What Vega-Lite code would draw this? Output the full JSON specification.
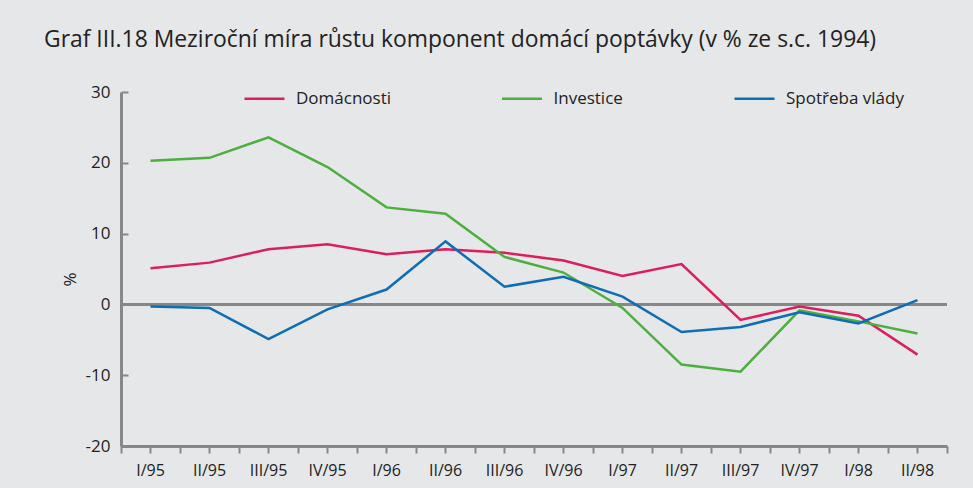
{
  "$schema": "https://vega.github.io/schema/vega-lite/v6.json",
  "width": 826,
  "height": 354,
  "autosize": {"type": "none"},
  "padding": {"left": 121, "top": 92, "right": 26, "bottom": 42},
  "background": "#e6e7e9",
  "config": {"view": {"stroke": null}, "font": "Open Sans"},
  "title": {
    "text": "Graf III.18 Meziroční míra růstu komponent domácí poptávky (v % ze s.c. 1994)",
    "anchor": "start",
    "frame": "group",
    "dx": -77,
    "offset": 25,
    "fontSize": 22.9,
    "fontWeight": "normal",
    "color": "#222222"
  },
  "data": {
    "values": [
      {"q": "I/95", "s": "Domácnosti", "v": 5.1},
      {"q": "II/95", "s": "Domácnosti", "v": 5.9},
      {"q": "III/95", "s": "Domácnosti", "v": 7.8},
      {"q": "IV/95", "s": "Domácnosti", "v": 8.5},
      {"q": "I/96", "s": "Domácnosti", "v": 7.1},
      {"q": "II/96", "s": "Domácnosti", "v": 7.8},
      {"q": "III/96", "s": "Domácnosti", "v": 7.3},
      {"q": "IV/96", "s": "Domácnosti", "v": 6.2},
      {"q": "I/97", "s": "Domácnosti", "v": 4.0},
      {"q": "II/97", "s": "Domácnosti", "v": 5.7},
      {"q": "III/97", "s": "Domácnosti", "v": -2.2},
      {"q": "IV/97", "s": "Domácnosti", "v": -0.3},
      {"q": "I/98", "s": "Domácnosti", "v": -1.6},
      {"q": "II/98", "s": "Domácnosti", "v": -7.1},
      {"q": "I/95", "s": "Investice", "v": 20.3},
      {"q": "II/95", "s": "Investice", "v": 20.7},
      {"q": "III/95", "s": "Investice", "v": 23.6},
      {"q": "IV/95", "s": "Investice", "v": 19.4},
      {"q": "I/96", "s": "Investice", "v": 13.7},
      {"q": "II/96", "s": "Investice", "v": 12.8},
      {"q": "III/96", "s": "Investice", "v": 6.7},
      {"q": "IV/96", "s": "Investice", "v": 4.5},
      {"q": "I/97", "s": "Investice", "v": -0.5},
      {"q": "II/97", "s": "Investice", "v": -8.5},
      {"q": "III/97", "s": "Investice", "v": -9.5},
      {"q": "IV/97", "s": "Investice", "v": -0.85},
      {"q": "I/98", "s": "Investice", "v": -2.4},
      {"q": "II/98", "s": "Investice", "v": -4.1},
      {"q": "I/95", "s": "Spotřeba vlády", "v": -0.3},
      {"q": "II/95", "s": "Spotřeba vlády", "v": -0.5},
      {"q": "III/95", "s": "Spotřeba vlády", "v": -4.9},
      {"q": "IV/95", "s": "Spotřeba vlády", "v": -0.7},
      {"q": "I/96", "s": "Spotřeba vlády", "v": 2.1},
      {"q": "II/96", "s": "Spotřeba vlády", "v": 8.9},
      {"q": "III/96", "s": "Spotřeba vlády", "v": 2.5},
      {"q": "IV/96", "s": "Spotřeba vlády", "v": 3.9},
      {"q": "I/97", "s": "Spotřeba vlády", "v": 1.1},
      {"q": "II/97", "s": "Spotřeba vlády", "v": -3.9},
      {"q": "III/97", "s": "Spotřeba vlády", "v": -3.2},
      {"q": "IV/97", "s": "Spotřeba vlády", "v": -1.1},
      {"q": "I/98", "s": "Spotřeba vlády", "v": -2.7},
      {"q": "II/98", "s": "Spotřeba vlády", "v": 0.6}
    ]
  },
  "resolve": {"axis": {"x": "independent"}},
  "layer": [
    {
      "mark": {"type": "rule", "color": "#878787", "strokeWidth": 3},
      "encoding": {"y": {"datum": 0, "type": "quantitative"}}
    },
    {
      "mark": {"type": "line", "strokeOpacity": 0},
      "encoding": {
        "x": {
          "field": "q", "type": "ordinal", "sort": null, "bandPosition": 0.5,
          "scale": {"type": "band", "paddingInner": 0, "paddingOuter": 0},
          "axis": {
            "orient": "bottom", "tickBand": "extent", "labels": false, "title": null,
            "domain": true, "domainColor": "#878787", "domainWidth": 3,
            "ticks": true, "tickColor": "#878787", "tickWidth": 2, "tickSize": 7
          }
        },
        "y": {"field": "v", "type": "quantitative"},
        "detail": {"field": "s"}
      }
    },
    {
      "mark": {"type": "line", "strokeWidth": 2.5},
      "encoding": {
        "x": {
          "field": "q", "type": "ordinal", "sort": null, "bandPosition": 0.5,
          "axis": {
            "orient": "bottom", "tickBand": "center", "labelAngle": 0, "title": null,
            "domain": false, "ticks": true, "tickColor": "#878787", "tickWidth": 2, "tickSize": 7,
            "labelFontSize": 16, "labelColor": "#222222", "labelPadding": 9
          }
        },
        "y": {
          "field": "v", "type": "quantitative",
          "scale": {"domain": [-20, 30], "nice": false},
          "axis": {
            "values": [-20, -10, 0, 10, 20, 30], "grid": false, "title": "%",
            "labelExpr": "'' + datum.value",
            "titleFontSize": 17, "titleFontWeight": "normal", "titleColor": "#222222",
            "titleX": -42, "titleY": 187, "titleAngle": 270,
            "domainColor": "#878787", "domainWidth": 3,
            "tickColor": "#878787", "tickWidth": 2, "tickSize": -7,
            "labelFontSize": 17, "labelColor": "#222222", "labelPadding": 18
          }
        },
        "color": {
          "field": "s", "type": "nominal",
          "scale": {"domain": ["Domácnosti", "Investice", "Spotřeba vlády"], "range": ["#dc1f5b", "#4caf3e", "#0e6db3"]},
          "legend": {
            "orient": "none", "legendX": 122, "legendY": -15, "direction": "horizontal",
            "title": null, "symbolType": "stroke", "symbolSize": 1600, "symbolStrokeWidth": 2.5,
            "labelFontSize": 17, "labelColor": "#222222", "labelOffset": 10, "columnPadding": 105.5
          }
        }
      }
    }
  ]
}
